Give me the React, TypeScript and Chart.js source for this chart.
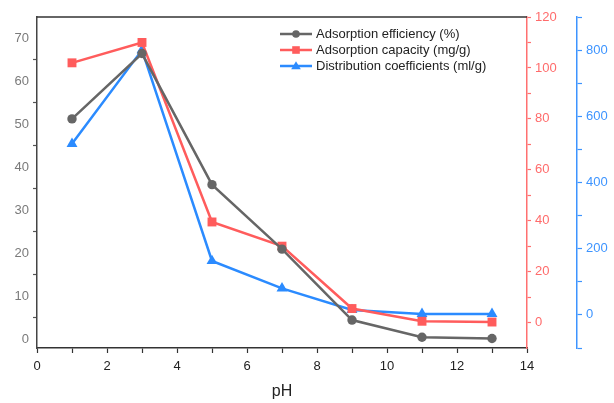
import React, { useEffect, useRef } from "react";
import { Chart, registerables } from "chart.js";

Chart.register(...registerables);

const pH = [1, 3, 5, 7, 9, 11, 13];
const efficiency = [51.3, 66.5, 36, 21, 4.5, 0.5, 0.2];
const capacity = [102, 110, 39.5, 30, 5.5, 0.5, 0.2];
const distribution = [517, 800, 163, 80, 15, 3, 3];

const seriesNames = [
  "Adsorption efficiency (%)",
  "Adsorption capacity (mg/g)",
  "Distribution coefficients (ml/g)",
];

const GRAY = "#666666";
const RED = "#ff5c5c";
const BLUE = "#2b8bff";
const FONT = "'Liberation Sans', Arial, sans-serif";

const legendPlugin = {
  id: "customLegend",
  afterDraw(chart: any) {
    const ctx = chart.ctx;
    const items = [
      { c: GRAY, m: "circle" },
      { c: RED, m: "rect" },
      { c: BLUE, m: "tri" },
    ];
    ctx.save();
    items.forEach((it, i) => {
      const y = 34 + i * 16;
      ctx.strokeStyle = it.c;
      ctx.lineWidth = 2.5;
      ctx.beginPath();
      ctx.moveTo(280, y);
      ctx.lineTo(312, y);
      ctx.stroke();
      ctx.fillStyle = it.c;
      ctx.beginPath();
      if (it.m === "circle") ctx.arc(296, y, 3.8, 0, Math.PI * 2);
      else if (it.m === "rect") ctx.rect(292.2, y - 3.8, 7.6, 7.6);
      else {
        ctx.moveTo(296, y - 4.8);
        ctx.lineTo(300.8, y + 3.2);
        ctx.lineTo(291.2, y + 3.2);
        ctx.closePath();
      }
      ctx.fill();
      ctx.fillStyle = "#222";
      ctx.font = `13px ${FONT}`;
      ctx.textBaseline = "middle";
      ctx.fillText(seriesNames[i], 316, y + 0.5);
    });
    const a = chart.chartArea;
    ctx.strokeStyle = "#333";
    ctx.lineWidth = 1.5;
    ctx.beginPath();
    ctx.moveTo(a.left, a.top);
    ctx.lineTo(a.right, a.top);
    ctx.stroke();
    ctx.restore();
  },
};

function makeTicks(min: number, max: number, step: number) {
  const t: { value: number }[] = [];
  for (let v = min; v <= max + 1e-9; v += step) t.push({ value: v });
  return t;
}

export default function App() {
  const ref = useRef<HTMLCanvasElement>(null);
  useEffect(() => {
    const toPts = (ys: number[]) => pH.map((x, i) => ({ x, y: ys[i] }));
    const chart = new Chart(ref.current!, {
      type: "line",
      data: {
        datasets: [
          {
            label: seriesNames[0],
            data: toPts(efficiency),
            yAxisID: "yL",
            borderColor: GRAY,
            backgroundColor: GRAY,
            borderWidth: 2.5,
            pointStyle: "circle",
            pointRadius: 4.7,
            pointBorderWidth: 0,
          },
          {
            label: seriesNames[1],
            data: toPts(capacity),
            yAxisID: "yR",
            borderColor: RED,
            backgroundColor: RED,
            borderWidth: 2.5,
            pointStyle: "rect",
            pointRadius: 6.3,
            pointBorderWidth: 0,
          },
          {
            label: seriesNames[2],
            data: toPts(distribution),
            yAxisID: "yB",
            borderColor: BLUE,
            backgroundColor: BLUE,
            borderWidth: 2.5,
            pointStyle: "triangle",
            pointRadius: 6.3,
            pointBorderWidth: 0,
          },
        ],
      },
      options: {
        animation: false,
        responsive: true,
        maintainAspectRatio: false,
        layout: { padding: { top: 17, left: 0, right: 0, bottom: 0 } },
        plugins: { legend: { display: false }, tooltip: { enabled: false } },
        scales: {
          x: {
            type: "linear",
            position: "bottom",
            min: 0,
            max: 14,
            afterBuildTicks: (s: any) => { s.ticks = makeTicks(0, 14, 1); },
            afterFit: (s: any) => { s.height = 55; },
            border: { display: true, color: "#333", width: 1.5 },
            grid: { drawOnChartArea: false, tickLength: 5, tickColor: "#333", tickWidth: 1.2 },
            ticks: {
              color: "#222",
              font: { family: FONT, size: 13 },
              padding: 6,
              maxRotation: 0,
              autoSkip: false,
              callback: (v: any) => (v % 2 === 0 ? String(v) : ""),
            },
            title: {
              display: true,
              text: "pH",
              color: "#222",
              font: { family: FONT, size: 16 },
              padding: { top: 0, bottom: 2 },
            },
          },
          yL: {
            type: "linear",
            position: "left",
            min: -2,
            max: 75,
            afterBuildTicks: (s: any) => { s.ticks = makeTicks(0, 70, 5); },
            afterFit: (s: any) => { s.width = 37; },
            border: { display: true, color: "#444", width: 1.5 },
            grid: {
              drawOnChartArea: false,
              tickLength: 4,
              tickWidth: 1.2,
              tickColor: (c: any) => (c.tick && c.tick.value % 10 === 0 ? "rgba(0,0,0,0)" : "#555"),
            },
            ticks: {
              color: "#7a7a7a",
              font: { family: FONT, size: 13 },
              padding: 4,
              autoSkip: false,
              callback: (v: any) => (v % 10 === 0 ? String(v) : ""),
            },
          },
          yR: {
            type: "linear",
            position: "right",
            weight: 0,
            min: -10,
            max: 120,
            afterBuildTicks: (s: any) => { s.ticks = makeTicks(0, 120, 10); },
            afterFit: (s: any) => { s.width = 50; },
            border: { display: true, color: "#ff7070", width: 1.5 },
            grid: { drawOnChartArea: false, tickLength: 4, tickWidth: 1.2, tickColor: "#ff7070" },
            ticks: {
              color: "#ff6b6b",
              font: { family: FONT, size: 13 },
              padding: 4,
              autoSkip: false,
              callback: (v: any) => (v % 20 === 0 ? String(v) : ""),
            },
          },
          yB: {
            type: "linear",
            position: "right",
            weight: 1,
            min: -100,
            max: 900,
            afterBuildTicks: (s: any) => { s.ticks = makeTicks(-100, 900, 100); },
            afterFit: (s: any) => { s.width = 37; },
            border: { display: true, color: "#3d94ff", width: 1.5 },
            grid: { drawOnChartArea: false, tickLength: 5, tickWidth: 1.2, tickColor: "#3d94ff" },
            ticks: {
              color: "#3d94ff",
              font: { family: FONT, size: 13 },
              padding: 4,
              autoSkip: false,
              callback: (v: any) => (v % 200 === 0 && v >= 0 && v <= 800 ? String(v) : ""),
            },
          },
        },
      } as any,
      plugins: [legendPlugin],
    });
    return () => chart.destroy();
  }, []);
  return (
    <div style={{ position: "fixed", left: 0, top: 0, width: 614, height: 403, background: "#fff" }}>
      <canvas ref={ref} />
    </div>
  );
}
